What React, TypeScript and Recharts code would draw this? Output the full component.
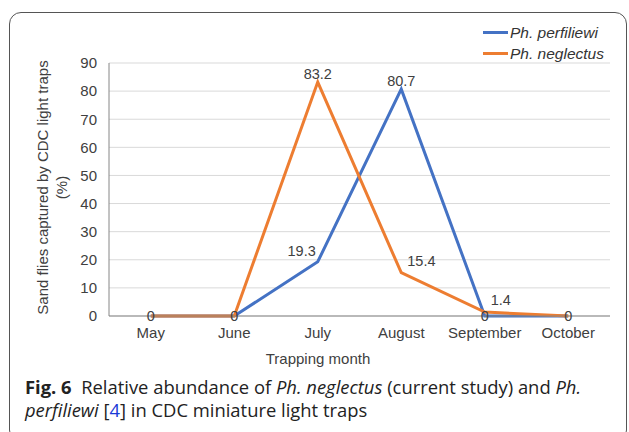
import React from 'react';
import { LineChart, Line, XAxis, YAxis, CartesianGrid, Legend, LabelList, Label } from 'recharts';

const months = ['May', 'June', 'July', 'August', 'September', 'October'];
const perfiliewi = [0, 0, 19.3, 80.7, 0, 0];
const neglectus = [0, 0, 83.2, 15.4, 1.4, 0];
const yTicks = [0, 10, 20, 30, 40, 50, 60, 70, 80, 90];

// where each value label sits relative to its point (style only)
const perfLabelPos = ['none', 'none', 'upLeft', 'above', 'center', 'none'];
const neglLabelPos = ['center', 'center', 'above', 'upRight', 'upRight', 'center'];

const data = months.map((m, i) => ({ month: m, perf: perfiliewi[i], negl: neglectus[i] }));

const BLUE = '#4472C4';
const ORANGE = '#ED7D31';
const TXT = '#404040';
const FONT = '"Liberation Sans", Arial, sans-serif';

const makeLabel = (places: string[]) => (props: any) => {
  const { x, y, value, index } = props;
  const p = places[index];
  if (p === 'none') return null;
  const common = { fill: TXT, fontSize: 14.5, fontFamily: FONT };
  if (p === 'center')
    return <text x={x} y={y} textAnchor="middle" dominantBaseline="central" {...common}>{value}</text>;
  if (p === 'above')
    return <text x={x} y={y - 3} textAnchor="middle" {...common}>{value}</text>;
  if (p === 'upLeft')
    return <text x={x - 2} y={y - 6} textAnchor="end" {...common}>{value}</text>;
  return <text x={x + 6} y={y - 7} textAnchor="start" {...common}>{value}</text>;
};

const renderLegend = () => (
  <div style={{ fontFamily: FONT, fontSize: 15.5, fontStyle: 'italic', color: '#333', lineHeight: '21px' }}>
    {[['Ph. perfiliewi', BLUE], ['Ph. neglectus', ORANGE]].map(([name, c]) => (
      <div key={name} style={{ display: 'flex', alignItems: 'center' }}>
        <span style={{ display: 'inline-block', width: 25, height: 3, background: c, marginRight: 2 }} />
        {name}
      </div>
    ))}
  </div>
);

const YTitle = (props: any) => {
  const { viewBox } = props;
  const cy = viewBox.y + viewBox.height / 2 - 2;
  return (
    <g fill={TXT} fontSize={15} fontFamily={FONT} textAnchor="middle">
      <text transform={`translate(42, ${cy}) rotate(-90)`} dominantBaseline="central">Sand flies captured by CDC light traps</text>
      <text transform={`translate(61, ${cy}) rotate(-90)`} dominantBaseline="central">(%)</text>
    </g>
  );
};

const XTitle = () => (
  <text x={318} y={358} fill={TXT} fontSize={15} fontFamily={FONT} textAnchor="middle" dominantBaseline="central">
    Trapping month
  </text>
);

export default function App() {
  return (
    <div style={{ position: 'absolute', left: 0, top: 0, width: 629, height: 432, background: '#fff', overflow: 'hidden' }}>
      <div style={{ position: 'absolute', left: 9, top: 12, width: 618, height: 430, border: '1.3px solid #555', borderRadius: 12, boxSizing: 'border-box' }} />
      <LineChart width={629} height={432} data={data} margin={{ top: 63, right: 19, left: 69, bottom: 86 }}>
        <CartesianGrid vertical={false} stroke="#d9d9d9" strokeWidth={1} />
        <XAxis
          dataKey="month"
          height={30}
          padding={{ left: 41.75, right: 41.75 }}
          axisLine={{ stroke: '#868686' }}
          tickLine={false}
          tickSize={0}
          tickMargin={11}
          tick={{ fill: TXT, fontSize: 15, fontFamily: FONT }}
          interval={0}
        >
          <Label content={<XTitle />} />
        </XAxis>
        <YAxis
          width={40}
          domain={[0, 90]}
          ticks={yTicks}
          axisLine={{ stroke: '#868686' }}
          tickLine={false}
          tickSize={0}
          tickMargin={12}
          tick={{ fill: TXT, fontSize: 15, fontFamily: FONT }}
        >
          <Label content={<YTitle />} />
        </YAxis>
        <Legend
          layout="vertical"
          align="center"
          verticalAlign="middle"
          content={renderLegend}
          wrapperStyle={{ left: 483, top: 22, width: 140 }}
        />
        <Line dataKey="perf" name="Ph. perfiliewi" stroke={BLUE} strokeWidth={3} dot={false} isAnimationActive={false} strokeLinejoin="miter">
          <LabelList dataKey="perf" content={makeLabel(perfLabelPos)} />
        </Line>
        <Line dataKey="negl" name="Ph. neglectus" stroke={ORANGE} strokeWidth={3} dot={false} isAnimationActive={false} strokeLinejoin="miter">
          <LabelList dataKey="negl" content={makeLabel(neglLabelPos)} />
        </Line>
      </LineChart>
      <div style={{ position: 'absolute', left: 25, top: 375, width: 600, fontFamily: '"Open Sans", sans-serif', fontSize: 18.4, lineHeight: '23px', color: '#222' }}>
        <b>Fig. 6</b>&nbsp;&nbsp;Relative abundance of <i>Ph. neglectus</i> (current study) and <i>Ph.</i>
        <br />
        <i>perfiliewi</i> [<span style={{ color: '#1a3ad6' }}>4</span>] in CDC miniature light traps
      </div>
    </div>
  );
}
